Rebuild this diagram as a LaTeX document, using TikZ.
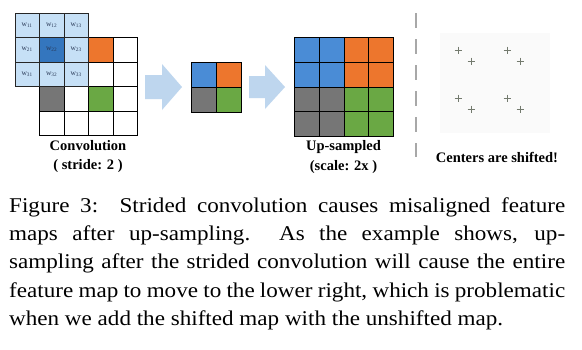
\documentclass[tikz,border=0pt]{standalone}
\usepackage{fontspec}
\setmainfont{Liberation Serif}
\newfontfamily\capfont[FakeStretch=1.1]{Liberation Serif}
\definecolor{obl}{RGB}{74,140,214}
\definecolor{oor}{RGB}{237,118,45}
\definecolor{ogr}{RGB}{118,118,118}
\definecolor{ogn}{RGB}{106,168,68}
\definecolor{kern}{RGB}{198,224,246}
\definecolor{kdark}{RGB}{52,118,190}
\definecolor{ktext}{RGB}{40,55,85}
\definecolor{arr}{RGB}{190,214,238}
\definecolor{dashc}{RGB}{168,168,168}
\definecolor{plusc}{RGB}{115,122,110}
\definecolor{cboxc}{RGB}{250,250,250}
\tikzset{
  cellbox/.style={draw=black, line width=0.7pt, minimum size=24.5pt, inner sep=0pt, anchor=north west},
  smallcell/.style={cellbox, minimum size=25pt},
  upcell/.style={cellbox, minimum size=24.75pt},
  kcell/.style={cellbox, draw=black!85, fill=kern, text=ktext, font=\fontsize{7.5}{8}\selectfont},
  lbl/.style={font=\bfseries\fontsize{14.5}{16}\selectfont, inner sep=0pt},
  blockarrow/.style={fill=arr, draw=none},
  plusmark/.style={draw=plusc, line width=0.6pt},
  sepline/.style={draw=dashc, line width=2.5pt, dash pattern=on 15pt off 11pt}
}
\begin{document}
\begin{tikzpicture}[x=1pt,y=-1pt]
\useasboundingbox[fill=white] (0,0) rectangle (582,349);
% convolution input grid
\foreach \i in {0,...,3}{\foreach \j in {0,...,3}{
  \node[cellbox] (g\i\j) at ({39+24.5*\i},{37+24.5*\j}) {};}}
\node[cellbox, fill=oor] (gor) at (88,37) {};
\node[cellbox, fill=ogr] (ggr) at (39,86) {};
\node[cellbox, fill=ogn] (ggn) at (88,86) {};
% kernel
\foreach \r/\c/\f in {1/1/kern,1/2/kern,1/3/kern,2/1/kern,2/2/kdark,2/3/kern,3/1/kern,3/2/kern,3/3/kern}{
  \node[kcell, fill=\f] (k\r\c) at ({14.5+24.5*(\c-1)},{12.5+24.5*(\r-1)}) {w\textsubscript{\r\c}};}
\node[lbl] (lconv) at (88,146) {Convolution};
\node[lbl] (lstride) at (88,166) {( stride: 2 )};
% arrow 1
\path[blockarrow] (145,75) -- (162,75) -- (162,64) -- (182,87) -- (162,110) -- (162,99) -- (145,99) -- cycle;
% small 2x2
\node[smallcell, fill=obl] (s11) at (191,62) {};
\node[smallcell, fill=oor] (s12) at (216,62) {};
\node[smallcell, fill=ogr] (s21) at (191,87) {};
\node[smallcell, fill=ogn] (s22) at (216,87) {};
% arrow 2
\path[blockarrow] (249,76) -- (265,76) -- (265,65) -- (285,87) -- (265,109) -- (265,98) -- (249,98) -- cycle;
% up-sampled 4x4
\foreach \i/\j/\f in {0/0/obl,1/0/obl,0/1/obl,1/1/obl,2/0/oor,3/0/oor,2/1/oor,3/1/oor,0/2/ogr,1/2/ogr,0/3/ogr,1/3/ogr,2/2/ogn,3/2/ogn,2/3/ogn,3/3/ogn}{
  \node[upcell, fill=\f] (u\i\j) at ({294+24.75*\i},{37+24.75*\j}) {};}
\node[lbl] (lup) at (343.5,147) {Up-sampled};
\node[lbl] (lscale) at (343.5,167) {(scale: 2x )};
% separator
\coordinate (dtop) at (416,13);
\coordinate (dbot) at (416,157);
\path[sepline] (dtop) -- (dbot);
% centers
\node[fill=cboxc, minimum width=110pt, minimum height=100pt, inner sep=0pt, anchor=north west] (cbox) at (440,33) {};
\foreach \x/\y in {458/50,471/61,507/50,520/61,458/98,471/109,507/98,520/109}{
  \path[plusmark] ({\x-3.5},\y) -- ({\x+3.5},\y) (\x,{\y-3.5}) -- (\x,{\y+3.5});}
\node[lbl] (lcent) at (497,157) {Centers are shifted!};
% caption
\node[anchor=north west, inner sep=0pt, text width=556pt, align=justify, font=\capfont\fontsize{21}{28.25}\selectfont] (cap) at (9,197.5)
{Figure 3:\ \ Strided convolution causes misaligned feature\linebreak
maps after up-sampling.\ \ As the example shows, up-\linebreak
sampling after the strided convolution will cause the entire\linebreak
feature map to move to the lower right, which is problematic\linebreak
when we add the shifted map with the unshifted map.};
\end{tikzpicture}
\end{document}
